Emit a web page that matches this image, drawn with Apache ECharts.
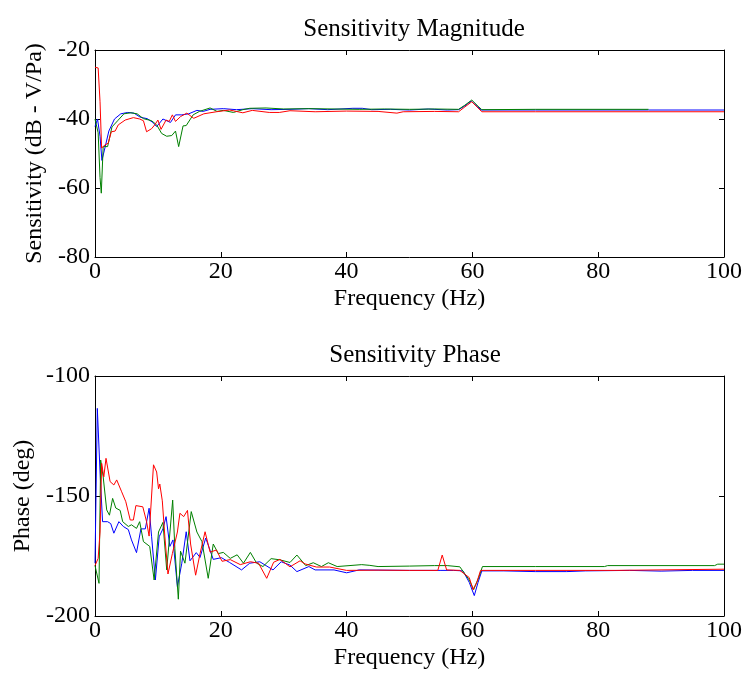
<!DOCTYPE html>
<html>
<head>
<meta charset="utf-8">
<script src="https://cdn.jsdelivr.net/npm/echarts@6/dist/echarts.min.js"></script>
<style>html,body{margin:0;padding:0;background:#fff;}#c{width:752px;height:684px;}</style>
</head>
<body>
<div id="c"></div>
<script>
// ---- Data (frequency Hz, value) ----
var xTicks = [0, 20, 40, 60, 80, 100];
var magTicks = [-80, -60, -40, -20];
var phaseTicks = [-200, -150, -100];

var magBlue = [[0,-42.2],[0.4,-40],[0.8,-45],[1.1,-52],[1.5,-49],[2.2,-43.5],[3.1,-40],[4.1,-38.5],[5.2,-38.1],[6.2,-38.3],[7.2,-39.5],[8.3,-39.9],[9.2,-41],[9.8,-42.2],[10.8,-40],[12,-41],[12.8,-38.8],[13.8,-38.8],[14.9,-38.5],[16.2,-37.5],[17.2,-37.8],[18.3,-37.2],[20.4,-37],[22.5,-37.3],[25,-37],[28,-37.3],[31,-37.2],[34,-37],[37,-37.3],[41,-36.9],[42.5,-36.9],[44,-37.3],[47,-37.2],[50,-37.4],[53,-37.1],[56,-37.4],[57.8,-37.3],[58.8,-36.2],[59.8,-34.8],[60.8,-36.4],[61.4,-37.4],[70,-37.4],[88,-37.4],[100,-37.4]];
var magGreen = [[0,-40],[0.5,-44],[0.8,-57],[1.0,-61.5],[1.3,-48],[2.0,-48],[2.7,-42.3],[3.6,-40.5],[4.6,-38.5],[5.7,-38.2],[6.7,-38.5],[7.7,-39.9],[9,-40.5],[9.8,-41.7],[10.6,-44.2],[11.4,-45],[12.2,-44.8],[12.8,-43.5],[13.3,-48],[14,-42],[14.5,-41.9],[15.6,-38.8],[16.6,-37.8],[18.3,-36.8],[19.4,-37.8],[20.4,-37.5],[22,-38.1],[23.5,-37.3],[24.6,-36.9],[27.2,-36.8],[30,-37.1],[34,-37],[38,-37.1],[42,-37.2],[46,-37.1],[50,-37.2],[54,-37.1],[57.8,-37.2],[58.8,-36],[59.9,-34.5],[60.9,-36.3],[61.5,-37.3],[70,-37.2],[88,-37.2]];
var magRed = [[0,-25],[0.5,-25.2],[0.8,-35],[1.05,-48.4],[1.6,-47.5],[2.1,-47],[2.6,-43.7],[3.2,-43.5],[3.7,-41.7],[4.8,-40.3],[6.1,-39.6],[7.1,-40],[7.7,-40.5],[8.2,-43.7],[9,-42.8],[9.5,-41.7],[10,-40.3],[10.5,-43],[11.3,-40.3],[11.8,-40.7],[12.3,-38.8],[12.8,-40.7],[13.6,-39.3],[14.6,-38.3],[15.7,-39.8],[17.3,-38.5],[19.3,-37.9],[21.4,-37.4],[23.5,-38.2],[25,-37.5],[27.7,-38.1],[29.3,-38.1],[31,-37.6],[35,-37.9],[40,-37.7],[45,-37.8],[48,-38.3],[49,-37.9],[54,-37.8],[57.8,-37.9],[58.8,-36.5],[59.9,-35],[60.9,-36.8],[61.5,-37.9],[70,-37.9],[100,-37.9]];

var phBlue = [[0,-178],[0.37,-113.5],[0.8,-140],[1.2,-160.7],[2.0,-160.7],[2.5,-161.5],[3.0,-165.5],[3.8,-160.7],[4.5,-162.7],[5.3,-164],[5.8,-168.3],[6.6,-173.6],[7.3,-163.7],[8.0,-163.7],[8.6,-155.1],[9.0,-167],[9.6,-185],[10.2,-167],[10.8,-163.7],[11.3,-158.6],[11.9,-171],[12.4,-168.3],[13.1,-187.8],[13.8,-178],[14.5,-164.9],[15.1,-177],[16.1,-173.6],[16.7,-175.6],[17.6,-167.5],[18.8,-176.4],[20.1,-175.7],[21.4,-177.7],[23.3,-180.8],[24.6,-178],[26.2,-177.4],[28.3,-180.8],[29.6,-177.4],[31,-178.8],[32.1,-181.5],[34,-179.4],[35,-180.8],[38,-180.8],[40,-182],[42,-180.8],[50,-181],[55,-181],[57,-181],[58.5,-181.2],[59.5,-186],[60.3,-191.5],[60.9,-186],[61.5,-181.2],[65,-181.2],[70,-181.5],[75,-181.5],[78,-181.2],[85,-181],[90,-181.3],[95,-181],[100,-181]];
var phGreen = [[0,-179],[0.64,-186.4],[0.9,-135],[1.3,-142],[1.86,-155.8],[2.3,-158],[2.8,-151],[3.3,-155],[4.0,-156],[4.4,-160.7],[5.3,-162.7],[5.8,-162],[6.6,-163.5],[7.1,-160.7],[7.7,-169],[8.7,-171],[9.4,-185],[10.1,-165],[10.8,-161],[11.4,-180.8],[12.35,-151.7],[12.7,-172],[13.25,-193],[13.6,-173],[14.3,-178],[15.3,-156.5],[16.2,-165],[17,-169],[18,-184.3],[18.8,-170],[19.6,-174],[20.4,-173.5],[21.5,-176],[22.6,-174.5],[23.6,-178],[24.7,-173.5],[25.7,-178],[26.7,-179.4],[28,-176.1],[29.4,-176.6],[31,-177.7],[32.1,-174.6],[33.5,-179],[34.7,-177.8],[36,-179.4],[37.1,-177.8],[38.5,-179.4],[42.4,-178.6],[43.7,-178.9],[45,-179.4],[50,-179.2],[54,-179],[56,-179],[58,-179.5],[59.5,-185],[60.2,-189],[61,-184],[61.6,-179.4],[70,-179.4],[81,-179.4],[81.5,-179],[98.5,-179],[99,-178.4],[100,-178.4]];
var phRed = [[0,-179],[0.5,-176],[0.8,-165],[1.06,-136.4],[1.4,-142],[1.75,-134.3],[2.4,-144],[3.0,-145.4],[3.45,-143.3],[4.2,-148],[4.9,-152.4],[5.6,-160],[6.1,-160],[6.5,-154],[7.6,-154.5],[8.2,-160.7],[8.6,-166.7],[9.3,-137],[9.8,-140],[10.1,-147],[10.3,-145],[10.7,-152],[11.1,-166.7],[11.6,-182.5],[12.3,-174],[13.1,-165],[13.5,-157.2],[14.1,-158.6],[14.7,-156],[15.2,-170],[16,-183],[16.7,-174],[17.5,-164.9],[18.3,-173.4],[19.3,-172.5],[20.2,-177.2],[21.5,-176.5],[23.1,-178.6],[24.7,-177.4],[26,-178],[27.3,-184.3],[28.4,-177.6],[29.4,-176.4],[31,-179.5],[32.6,-177],[33.4,-178.3],[35.2,-179.6],[37.3,-179.6],[40,-181],[45,-180.9],[50,-181],[54.5,-181],[55.2,-174.6],[55.9,-180.8],[58,-181],[59.5,-184],[60.1,-189],[60.7,-186],[61.3,-181],[70,-181],[82.7,-181],[83,-180.5],[100,-180.5]];

var FONT = 'Liberation Serif';
var FS = 24;

function xAx(gi, pos) {
  var main = pos === 'bottom';
  return {
    type: 'value', gridIndex: gi, position: pos, min: xTicks[0], max: xTicks[xTicks.length-1], interval: xTicks[1]-xTicks[0],
    name: main ? 'Frequency (Hz)' : '', nameLocation: 'middle', nameGap: 30,
    nameTextStyle: {fontFamily: FONT, fontSize: FS, color: '#000'},
    axisLine: {show: true, onZero: false, lineStyle: {color: '#000', width: 1}},
    axisTick: {show: true, inside: true, length: 5, lineStyle: {color: '#000'}},
    axisLabel: {show: main, fontFamily: FONT, fontSize: FS, color: '#000', margin: 3},
    splitLine: {show: false}
  };
}
function yAx(gi, pos, ticks, name, gap) {
  var main = pos === 'left';
  return {
    type: 'value', gridIndex: gi, position: pos, min: ticks[0], max: ticks[ticks.length-1], interval: ticks[1]-ticks[0],
    name: main ? name : '', nameLocation: 'middle', nameGap: gap,
    nameTextStyle: {fontFamily: FONT, fontSize: FS, color: '#000'},
    axisLine: {show: true, onZero: false, lineStyle: {color: '#000', width: 1}},
    axisTick: {show: true, inside: true, length: 5, lineStyle: {color: '#000'}},
    axisLabel: {show: main, fontFamily: FONT, fontSize: FS, color: '#000', margin: 5},
    splitLine: {show: false}
  };
}
function ser(data, color, xi, yi) {
  return {type: 'line', data: data, xAxisIndex: xi, yAxisIndex: yi, showSymbol: false, symbol: 'none',
    lineStyle: {color: color, width: 1}, itemStyle: {color: color}, animation: false, clip: true};
}

var chart = echarts.init(document.getElementById('c'), null, {renderer: 'canvas'});
chart.setOption({
  backgroundColor: '#fff',
  animation: false,
  title: [
    {text: 'Sensitivity Magnitude', left: 409, top: 12, textAlign: 'center', textStyle: {fontFamily: FONT, fontSize: 25, fontWeight: 'normal', color: '#000'}},
    {text: 'Sensitivity Phase', left: 410, top: 338, textAlign: 'center', textStyle: {fontFamily: FONT, fontSize: 25, fontWeight: 'normal', color: '#000'}}
  ],
  grid: [
    {left: 95, top: 50, width: 629, height: 207},
    {left: 95, top: 376, width: 629, height: 240}
  ],
  xAxis: [xAx(0, 'bottom'), xAx(0, 'top'), xAx(1, 'bottom'), xAx(1, 'top')],
  yAxis: [yAx(0, 'left', magTicks, 'Sensitivity (dB - V/Pa)', 48), yAx(0, 'right', magTicks, '', 0),
          yAx(1, 'left', phaseTicks, 'Phase (deg)', 57), yAx(1, 'right', phaseTicks, '', 0)],
  series: [
    ser(magBlue, '#0000ff', 0, 0), ser(magGreen, '#008000', 0, 0), ser(magRed, '#ff0000', 0, 0),
    ser(phBlue, '#0000ff', 2, 2), ser(phGreen, '#008000', 2, 2), ser(phRed, '#ff0000', 2, 2)
  ]
});
</script>
</body>
</html>
